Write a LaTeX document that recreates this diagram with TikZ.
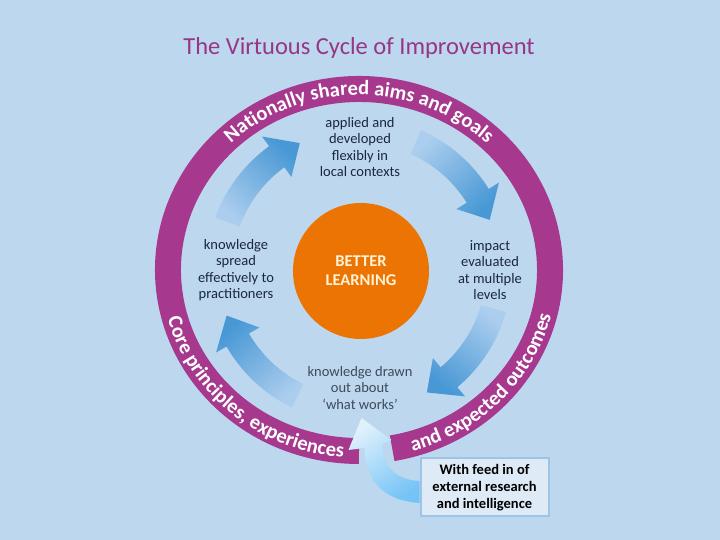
\documentclass[tikz,border=0pt]{standalone}
\usepackage{fontspec}
\setmainfont{Carlito}
\usetikzlibrary{decorations.text}
\definecolor{bgblue}{RGB}{189,215,238}
\definecolor{ringpurple}{RGB}{166,56,142}
\definecolor{titlepurple}{RGB}{150,54,134}
\definecolor{bigorange}{RGB}{236,116,2}
\definecolor{creamtext}{RGB}{255,242,214}
\definecolor{arrowdark}{RGB}{72,152,213}
\definecolor{arrowlight}{RGB}{172,206,238}
\definecolor{feeddark}{RGB}{118,196,246}
\definecolor{feedlight}{RGB}{224,241,252}
\definecolor{labelnavy}{RGB}{26,38,66}
\definecolor{labelgray}{RGB}{62,74,92}
\definecolor{boxfill}{RGB}{222,235,247}
\definecolor{boxline}{RGB}{157,195,230}
\newcommand\ringfont{\fontsize{20.5}{20.5}\selectfont\bfseries}
\begin{document}
\begin{tikzpicture}[x=1pt,y=1pt,
    cyclelabel/.style={align=center,text=labelnavy,font=\fontsize{14.5}{16.5}\selectfont},
    ringtext/.style={decorate,decoration={text along path,text align=center,
        text color=white,text={|\ringfont|#1}}}]
    \useasboundingbox (-359,-270) rectangle (361,270);
    \fill[bgblue] (-359,-270) rectangle (361,270);
    % 标题
    \node[text=titlepurple,font=\fontsize{24.5}{27}\selectfont] (title) at (0,222) {The Virtuous Cycle of Improvement};
    % 外环
    \draw[ringpurple,line width=26pt] (-80:191 and 181) arc[start angle=-80,end angle=270,x radius=191,y radius=181];
    \path[ringtext={Nationally shared aims and goals}] (150:185 and 175) arc[start angle=150,end angle=30,x radius=185,y radius=175];
    \path[ringtext={Core principles, experiences}] (185:198 and 188) arc[start angle=185,end angle=275,x radius=198,y radius=188];
    \path[ringtext={and expected outcomes}] (-79:198 and 188) arc[start angle=-79,end angle=-9,x radius=198,y radius=188];
    % 内圈箭头
    \foreach \a/\b in {160/115,66/21,-16/-61,-116/-161} {
        \pgfmathsetmacro\h{\b+11}
        \pgfmathsetmacro\s{(\a+\b)/2-180}
        \shade[bottom color=arrowlight,top color=arrowdark,shading angle=\s]
          (\a:127) arc[start angle=\a,end angle=\h,radius=127] -- (\h:115) -- (\b:140)
          -- (\h:165) -- (\h:153) arc[start angle=\h,end angle=\a,radius=153] -- cycle;
      }
    % 中心
    \node[circle,fill=bigorange,minimum size=136pt,inner sep=0pt,align=center,text=creamtext,
      font=\fontsize{16.5}{19}\selectfont\bfseries] (better) at (2,-1) {BETTER\\LEARNING};
    \node[cyclelabel] (applied) at (1,123) {applied and\\developed\\flexibly in\\local contexts};
    \node[cyclelabel] (impact) at (131,0) {impact\\evaluated\\at multiple\\levels};
    \node[cyclelabel,text=labelgray] (drawn) at (1,-118) {knowledge drawn\\out about\\‘what works’};
    \node[cyclelabel] (spread) at (-123,0) {knowledge\\spread\\effectively to\\practitioners};
    % 外部输入
    \node[draw=boxline,line width=2pt,fill=boxfill,minimum width=128pt,minimum height=58pt,align=center,
      text=black,font=\fontsize{14.5}{17}\selectfont\bfseries] (feedbox) at (125.5,-217.5)
      {With feed in of\\external research\\and intelligence};
    \shade[bottom color=feeddark,top color=feedlight,shading angle=35,shift={(feedbox.west)}]
      (0,-15.5) .. controls (-38,-12.5) and (-54,7.5) .. (-55,39.5) -- (-71,37.5) -- (-58,69.5)
      -- (-28,47.5) -- (-37,43.5) .. controls (-37,22.5) and (-25,7.5) .. (0,6.5) -- cycle;
  \end{tikzpicture}
\end{document}
